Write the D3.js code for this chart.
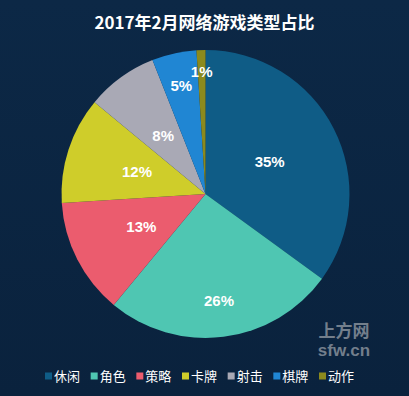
<!DOCTYPE html>
<html>
<head>
<meta charset="utf-8">
<script src="https://cdn.jsdelivr.net/npm/d3@7/dist/d3.min.js"></script>
<style>
  html, body { margin: 0; padding: 0; background: #0b2643; }
  svg { display: block; }
</style>
</head>
<body>
<script>
var width = 409,
  height = 396;

// data
var categories = ["休闲", "角色", "策略", "卡牌", "射击", "棋牌", "动作"];
var shares = [35, 26, 13, 12, 8, 5, 1];
var colors = ["#0f5c86", "#4fc6b2", "#eb5c6e", "#cfcd2a", "#a9a9b5", "#2086d3", "#8b8a1d"];
var title = "2017年2月网络游戏类型占比";

var font = "'Noto Sans CJK SC', 'Liberation Sans', Arial, sans-serif";
var numFont = "'Liberation Sans', Arial, sans-serif";

var svg = d3.select("body").append("svg")
  .attr("width", width)
  .attr("height", height);

// background
var defs = svg.append("defs");
var grad = defs.append("linearGradient")
  .attr("id", "bg")
  .attr("x1", 0).attr("y1", 0).attr("x2", 0).attr("y2", 1);
grad.append("stop").attr("offset", "0%").attr("stop-color", "#0c2846");
grad.append("stop").attr("offset", "100%").attr("stop-color", "#0a223d");

svg.append("rect")
  .attr("width", width)
  .attr("height", height)
  .attr("fill", "url(#bg)");

// title
svg.append("text")
  .attr("x", width / 2)
  .attr("y", 29)
  .attr("text-anchor", "middle")
  .attr("fill", "#ffffff")
  .attr("font-family", font)
  .attr("font-weight", "bold")
  .attr("font-size", 17)
  .text(title);

// pie
var cx = 205.5, cy = 194, radius = 144;

var color = d3.scaleOrdinal().domain(categories).range(colors);

var pie = d3.pie()
  .sort(null)
  .value(function (d, i) { return shares[i]; });

var arc = d3.arc().innerRadius(0).outerRadius(radius);

var arcs = pie(categories);

var g = svg.append("g")
  .attr("transform", "translate(" + cx + "," + cy + ")");

g.selectAll("path")
  .data(arcs)
  .enter()
  .append("path")
  .attr("d", arc)
  .attr("fill", function (d) { return color(d.data); });

// label radius (fraction of radius) - some labels sit further out
function labelFrac(d) {
  if (d.data === "角色") return 0.75;
  if (d.data === "棋牌") return 0.77;
  if (d.data === "动作") return 0.85;
  return 0.5;
}

g.selectAll("text.pct")
  .data(arcs)
  .enter()
  .append("text")
  .attr("class", "pct")
  .attr("transform", function (d) {
    var a = (d.startAngle + d.endAngle) / 2,
      r = radius * labelFrac(d);
    return "translate(" + (Math.sin(a) * r) + "," + (-Math.cos(a) * r) + ")";
  })
  .attr("dy", "0.35em")
  .attr("text-anchor", "middle")
  .attr("fill", "#ffffff")
  .attr("font-family", numFont)
  .attr("font-weight", "bold")
  .attr("font-size", 15)
  .text(function (d, i) { return shares[i] + "%"; });

// watermark
var wm = svg.append("g").attr("fill", "#8e96a0").attr("opacity", 0.8)
  .attr("font-weight", "bold");
wm.append("text").attr("x", 344).attr("y", 337).attr("text-anchor", "middle")
  .attr("font-family", font).attr("font-size", 17).text("上方网");
wm.append("text").attr("x", 344).attr("y", 356).attr("text-anchor", "middle")
  .attr("font-family", numFont).attr("font-size", 17).text("sfw.cn");

// legend
var legendX = d3.scalePoint()
  .domain(categories)
  .range([45, 319]);

var legend = svg.append("g")
  .selectAll("g")
  .data(categories)
  .enter()
  .append("g")
  .attr("transform", function (d) { return "translate(" + legendX(d) + ",376)"; });

legend.append("rect")
  .attr("x", 0)
  .attr("y", -3.5)
  .attr("width", 7)
  .attr("height", 7)
  .attr("fill", function (d) { return color(d); });

legend.append("text")
  .attr("x", 9)
  .attr("dy", "0.36em")
  .attr("fill", "#ffffff")
  .attr("font-family", font)
  .attr("font-size", 13)
  .text(function (d) { return d; });
</script>
</body>
</html>
